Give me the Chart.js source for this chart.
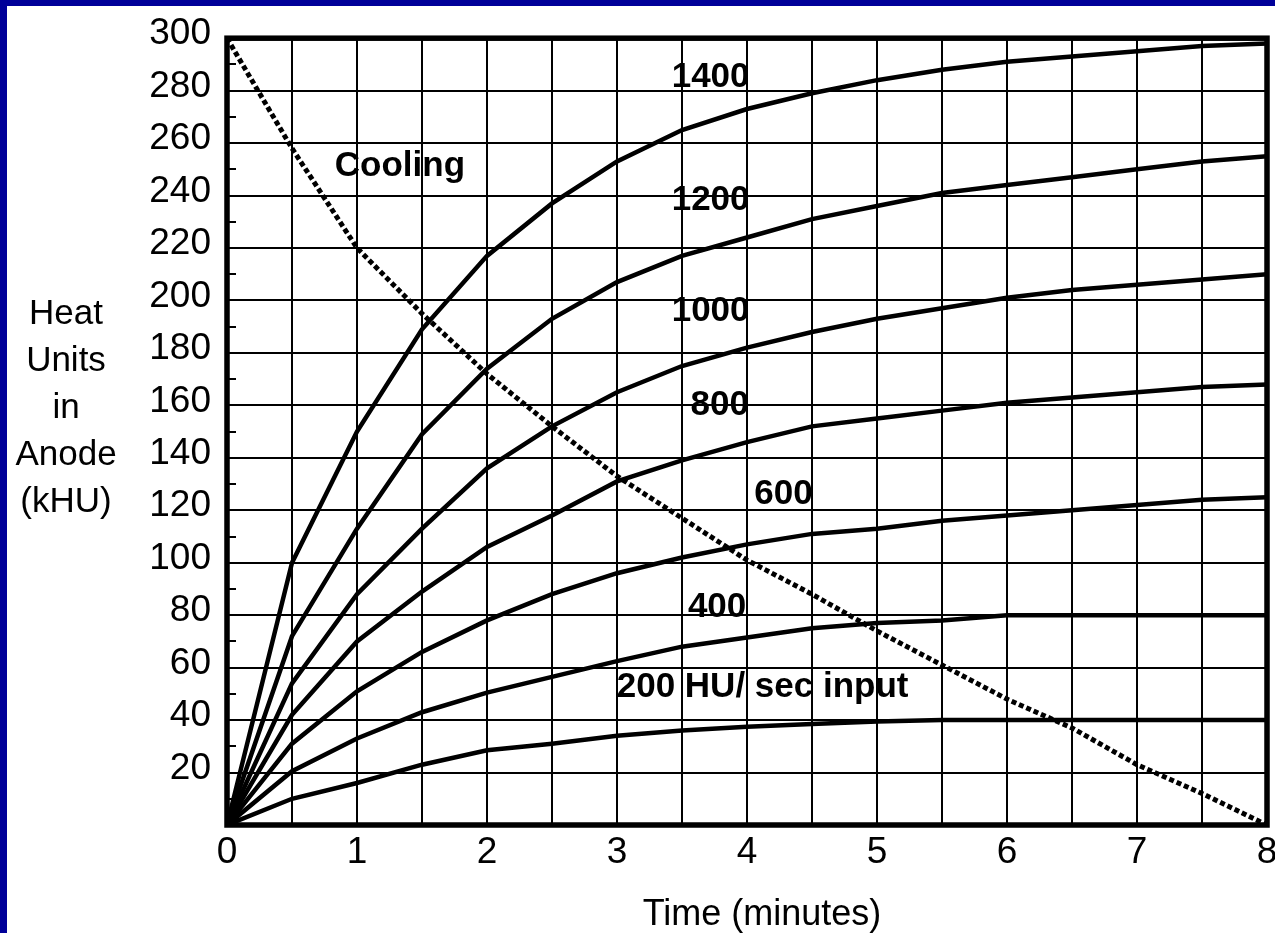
<!DOCTYPE html>
<html>
<head>
<meta charset="utf-8">
<title>Anode heating and cooling</title>
<script src="https://cdn.jsdelivr.net/npm/chart.js@4.4.1/dist/chart.umd.min.js"></script>
<style>
  html, body { margin: 0; padding: 0; background: #fff; }
  #wrap { position: relative; width: 1275px; height: 933px; overflow: hidden; background: #fff; }
  #wrap canvas { position: absolute; left: 0; top: 0; }
  .edge-left { position: absolute; left: 0; top: 0; width: 7px; height: 933px; background: #000099; }
  .edge-top { position: absolute; left: 0; top: 0; width: 1275px; height: 6px; background: #000099; }
</style>
</head>
<body>
<div id="wrap">
  <canvas id="chart" width="1275" height="933"></canvas>
  <div class="edge-left"></div>
  <div class="edge-top"></div>
</div>
<script>
// Time axis (minutes) shared by every curve
const minutes = [0, 0.5, 1, 1.5, 2, 2.5, 3, 3.5, 4, 4.5, 5, 5.5, 6, 6.5, 7, 7.5, 8];

// Heat stored in the anode (kHU) for each input rate (HU/sec)
const hu200  = [0, 10, 16, 23, 28.5, 31, 34, 36, 37.5, 38.5, 39.5, 40, 40, 40, 40, 40, 40];
const hu400  = [0, 20.5, 33, 43, 50.5, 56.5, 62.5, 68, 71.5, 75, 77, 78, 80, 80, 80, 80, 80];
const hu600  = [0, 31, 51, 66, 78, 88, 96, 102, 107, 111, 113, 116, 118, 120, 122, 124, 125];
const hu800  = [0, 42, 70, 89, 106, 118, 131, 139, 146, 152, 155, 158, 161, 163, 165, 167, 168];
const hu1000 = [0, 54, 88, 113, 136, 152, 165, 175, 182, 188, 193, 197, 201, 204, 206, 208, 210];
const hu1200 = [0, 72, 113, 149, 174, 193, 207, 217, 224, 231, 236, 241, 244, 247, 250, 253, 255];
const hu1400 = [0, 100, 150, 189, 217, 237, 253, 265, 273, 279, 284, 288, 291, 293, 295, 297, 298];

// Cooling of a fully loaded anode (kHU)
const cooling = [300, 258, 220, 195, 172, 152, 133, 117, 101, 88, 74, 61, 48, 37, 23, 12, 0];

// Axis ticks
const yTickValues = [20, 40, 60, 80, 100, 120, 140, 160, 180, 200, 220, 240, 260, 280, 300];
const xTickLabels = ['0', '1', '2', '3', '4', '5', '6', '7', '8'];

const heating = [
  ['200', hu200], ['400', hu400], ['600', hu600], ['800', hu800],
  ['1000', hu1000], ['1200', hu1200], ['1400', hu1400]
];

const pairs = (vals) => minutes.map((t, i) => ({ x: t, y: vals[i] }));

const datasets = heating.map(([name, vals]) => ({
  label: name + ' HU/sec',
  data: pairs(vals),
  borderColor: '#000',
  borderWidth: 4.5,
  pointRadius: 0,
  tension: 0,
  fill: false
}));
datasets.push({
  label: 'Cooling',
  data: pairs(cooling),
  borderColor: '#000',
  borderWidth: 5,
  borderDash: [5, 3],
  pointRadius: 0,
  tension: 0,
  fill: false
});

const FONT = '"Liberation Sans", Arial, Helvetica, sans-serif';

// Curve captions, placed in data units (minutes, kHU)
const captions = [
  { text: '1400', t: 3.72, v: 285 },
  { text: '1200', t: 3.72, v: 238 },
  { text: '1000', t: 3.72, v: 196 },
  { text: '800', t: 3.79, v: 160 },
  { text: '600', t: 4.28, v: 126 },
  { text: '400', t: 3.77, v: 83 },
  { text: '200 HU/ sec input', t: 4.12, v: 52.5 },
  { text: 'Cooling', t: 1.33, v: 251 }
];

const yTitleLines = ['Heat', 'Units', 'in', 'Anode', '(kHU)'];
const xTitle = 'Time (minutes)';

const frameAndNotes = {
  id: 'frameAndNotes',
  afterDatasetsDraw(chart) {
    const { ctx, chartArea: a, scales: { x, y } } = chart;
    ctx.save();
    ctx.strokeStyle = '#000';
    ctx.fillStyle = '#000';

    // short inner ticks between the labelled grid lines
    ctx.lineWidth = 2;
    for (let v = 10; v < 300; v += 20) {
      const py = Math.round(y.getPixelForValue(v));
      ctx.beginPath();
      ctx.moveTo(a.left, py);
      ctx.lineTo(a.left + 9, py);
      ctx.stroke();
    }

    // heavy frame round the plot
    ctx.lineWidth = 5.5;
    ctx.strokeRect(a.left, a.top, a.right - a.left, a.bottom - a.top);

    // captions on the curves
    ctx.textAlign = 'center';
    ctx.textBaseline = 'middle';
    ctx.font = 'bold 35px ' + FONT;
    for (const c of captions) {
      ctx.fillText(c.text, x.getPixelForValue(c.t), y.getPixelForValue(c.v));
    }

    // stacked vertical-axis title
    ctx.font = '35px ' + FONT;
    ctx.textBaseline = 'alphabetic';
    yTitleLines.forEach((line, i) => {
      ctx.fillText(line, 66, a.top + 286 + i * 47);
    });

    // horizontal-axis title
    ctx.font = '36px ' + FONT;
    ctx.fillText(xTitle, (a.left + a.right) / 2 + 15, a.bottom + 100);
    ctx.restore();
  }
};

new Chart(document.getElementById('chart'), {
  type: 'line',
  data: { datasets },
  options: {
    responsive: false,
    devicePixelRatio: 1,
    animation: false,
    layout: { padding: { top: 30, right: 8, left: 0, bottom: 0 } },
    plugins: {
      legend: { display: false },
      tooltip: { enabled: false },
      title: { display: false }
    },
    scales: {
      x: {
        type: 'linear',
        min: 0,
        max: 8,
        border: { display: false },
        grid: { color: '#000', lineWidth: 2, drawTicks: false },
        ticks: {
          stepSize: 0.5,
          autoSkip: false,
          maxRotation: 0,
          padding: 6,
          color: '#000',
          font: { family: FONT, size: 37 },
          callback: (v) => Number.isInteger(v) ? xTickLabels[v] : ''
        },
        afterFit: (s) => { s.height = 108; s.paddingLeft = 0; s.paddingRight = 0; }
      },
      y: {
        type: 'linear',
        min: 0,
        max: 300,
        border: { display: false },
        grid: { color: '#000', lineWidth: 2, drawTicks: false },
        ticks: {
          stepSize: 20,
          autoSkip: false,
          padding: 16,
          labelOffset: -4,
          color: '#000',
          font: { family: FONT, size: 37 },
          callback: (v) => yTickValues.includes(v) ? String(v) : ''
        },
        afterFit: (s) => { s.width = 227; }
      }
    }
  },
  plugins: [frameAndNotes]
});
</script>
</body>
</html>
